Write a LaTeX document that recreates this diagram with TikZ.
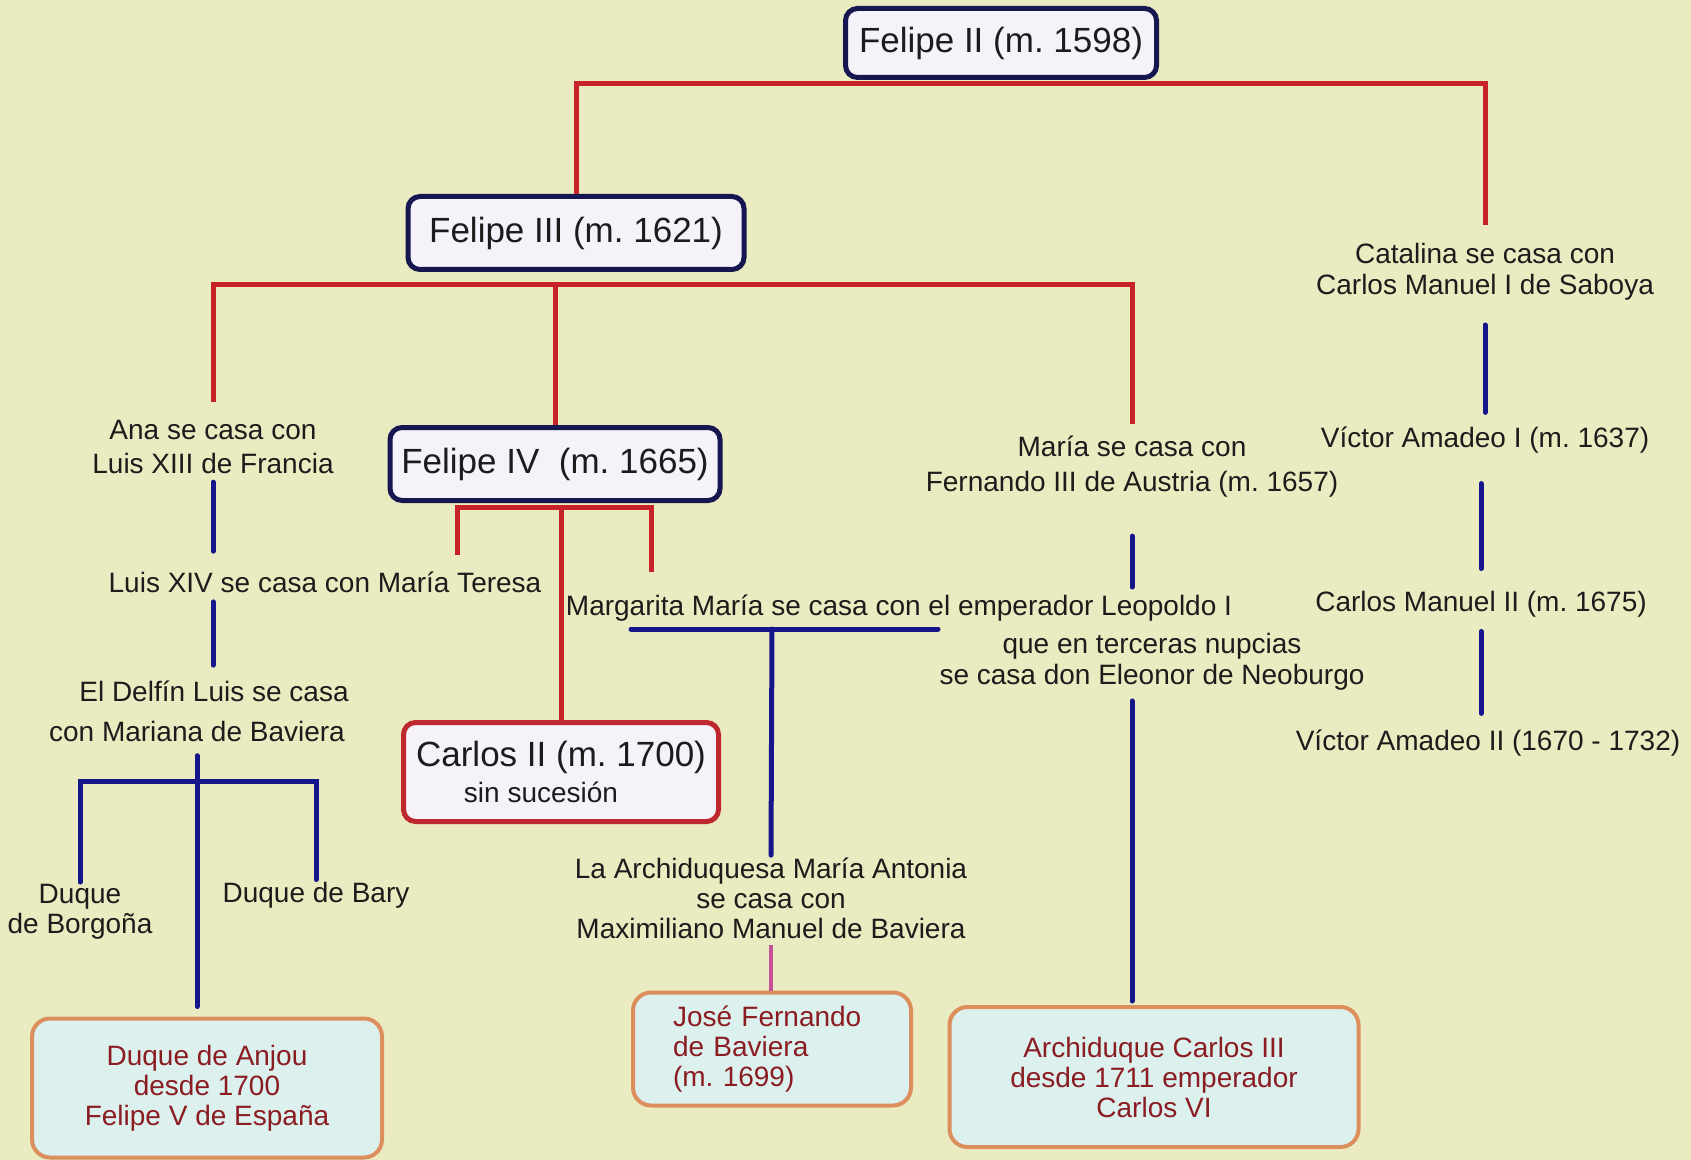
\documentclass[tikz,border=0pt]{standalone}
\usepackage{fontspec}
\setmainfont{Liberation Sans}
\frenchspacing
\definecolor{bgyellow}{RGB}{234,235,192}
\definecolor{lav}{RGB}{246,242,250}
\definecolor{navy}{RGB}{22,22,80}
\definecolor{redl}{RGB}{198,34,40}
\definecolor{redb}{RGB}{190,40,46}
\definecolor{bluel}{RGB}{22,22,140}
\definecolor{pinkl}{RGB}{196,80,150}
\definecolor{cyanb}{RGB}{220,240,238}
\definecolor{orangeb}{RGB}{220,142,92}
\definecolor{heirred}{RGB}{138,28,34}
\definecolor{ink}{RGB}{28,28,28}
\newcommand\kingfont{\fontsize{17.5}{21}\selectfont}
\newcommand\notefont[1][15.5]{\fontsize{14}{#1}\selectfont}
\begin{document}
\begin{tikzpicture}[x=0.5pt,y=-0.5pt,
  king/.style={draw=navy,line width=2.5pt,rounded corners=6pt,fill=lav,inner sep=0pt,font=\kingfont,text=ink},
  heir/.style={draw=orangeb,line width=2pt,rounded corners=9pt,fill=cyanb,inner sep=0pt,font={\notefont[15]},text=heirred,align=center},
  note/.style={inner sep=1pt,align=center,font=\notefont,text=ink},
  redline/.style={draw=redl,line width=2.5pt},
  blueline/.style={draw=bluel,line width=2.5pt,line cap=round},
  pinkline/.style={draw=pinkl,line width=2pt}]
\useasboundingbox (0,0) rectangle (1691,1160);
\fill[bgyellow] (0,0) rectangle (1691,1160);
% casa real
\node[king,minimum width=155.5pt,minimum height=34.5pt] (f2) at (1001,43) {Felipe II (m. 1598)};
\node[king,minimum width=168pt,minimum height=36.5pt] (f3) at (576,233) {Felipe III (m. 1621)};
\node[king,minimum width=165pt,minimum height=36.5pt] (f4) at (555,464) {Felipe IV\ \ (m. 1665)};
\node[king,draw=redb,align=center,minimum width=157.5pt,minimum height=49.5pt] (c2) at (561,772) {Carlos II (m. 1700)\\[-3pt]{\notefont sin sucesión\hspace*{20pt}}};
% pretendientes
\node[heir,minimum width=175pt,minimum height=69.5pt] (anjou) at (207,1088) {Duque de Anjou\\desde 1700\\Felipe V de España};
\node[heir,align=left,text width=99pt,inner xsep=20pt,minimum height=56.5pt] (jose) at (772,1049) {José Fernando\\de Baviera\\(m. 1699)};
\node[heir,minimum width=204.5pt,minimum height=70pt] (arch) at (1154,1077) {Archiduque Carlos III\\desde 1711 emperador\\Carlos VI};
% matrimonios
\node[note,font={\notefont[17]}] (ana) at (213,447) {Ana se casa con\\Luis XIII de Francia};
\node[note] (luis14) at (325,582) {Luis XIV se casa con María Teresa};
\node[note] (delfin) at (214,691) {El Delfín Luis se casa};
\node[note] (mariana) at (197,731) {con Mariana de Baviera};
\node[note,font={\notefont[15]}] (borgona) at (80,912) {Duque\\de Borgoña};
\node[note] (bary) at (316,895) {Duque de Bary};
\node[note] (marg) at (899,608) {Margarita María se casa con el emperador Leopoldo I};
\node[note,font={\notefont[15]}] (antonia) at (771,898) {La Archiduquesa María Antonia\\se casa con\\Maximiliano Manuel de Baviera};
\node[note,font={\notefont[17.5]}] (maria) at (1132,467) {María se casa con\\Fernando III de Austria (m. 1657)};
\node[note] (nupcias) at (1152,662) {que en terceras nupcias\\se casa don Eleonor de Neoburgo};
\node[note] (catalina) at (1485,272) {Catalina se casa con\\Carlos Manuel I de Saboya};
\node[note] (va1) at (1485,440) {Víctor Amadeo I (m. 1637)};
\node[note] (cm2) at (1481,604) {Carlos Manuel II (m. 1675)};
\node[note] (va2) at (1488,743) {Víctor Amadeo II (1670 - 1732)};
% lineas rojas
\coordinate (f2bar) at (1001,84);
\coordinate (f3bar) at (576,285);
\coordinate (f4bar) at (561,507);
\coordinate (mt) at (457,555);
\coordinate (mm) at (651,572);
\draw[redline,shorten >=8pt] (f3.north) |- (f2bar) -| (catalina.north);
\draw[redline,shorten <=8pt,shorten >=5pt] (ana.north) |- (f3bar) -| (maria.north);
\draw[redline] (f3bar -| f4.north) -- (f4.north);
\draw[redline] (mt) |- (f4bar) -| (mm);
\draw[redline] (f4bar) -- (c2.north);
% lineas azules
\coordinate (mbar) at (201,781);
\coordinate (ml) at (631,629);
\coordinate (mr) at (938,629);
\coordinate (mjoin) at (772,629);
\draw[blueline,shorten <=3pt,shorten >=9pt] (ana.south) -- (ana.south |- luis14.north);
\draw[blueline,shorten <=3.5pt,shorten >=6.5pt] (ana.south |- luis14.south) -- (ana.south |- delfin.north);
\draw[blueline,shorten <=6pt,shorten >=5pt] (mariana.south) -- (mariana.south |- anjou.north);
\draw[blueline] (borgona.north) |- (mbar) -| (bary.north);
\draw[blueline] (ml) -- (mr);
\draw[blueline] (mjoin) -- (antonia.north);
\draw[pinkline,shorten <=2pt] (antonia.south) -- (antonia.south |- jose.north);
\draw[blueline,shorten <=18pt,shorten >=22pt] (maria.south) -- (maria.south |- nupcias.north);
\draw[blueline,shorten <=4pt,shorten >=2pt] (maria.south |- nupcias.south) -- (maria.south |- arch.north);
\draw[blueline,shorten <=11pt,shorten >=6pt] (catalina.south) -- (catalina.south |- va1.north);
\draw[blueline,shorten <=14pt,shorten >=10pt] (cm2.north |- va1.south) -- (cm2.north);
\draw[blueline,shorten <=6pt,shorten >=7pt] (cm2.south) -- (cm2.south |- va2.north);
\end{tikzpicture}
\end{document}
